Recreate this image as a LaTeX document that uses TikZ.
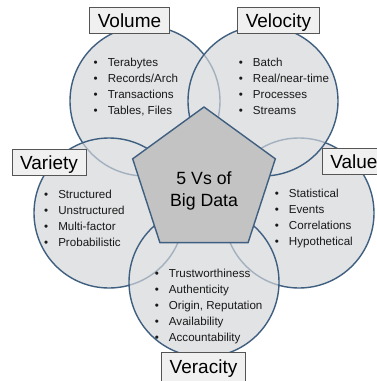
\documentclass[tikz,border=0pt]{standalone}
\usepackage{fontspec}
\setmainfont{Liberation Sans}
\usetikzlibrary{shapes.geometric}
\definecolor{circfill}{HTML}{E2E3E5}
\definecolor{circline}{HTML}{3F5F80}
\definecolor{pentfill}{HTML}{C3C3C3}
\definecolor{boxfill}{HTML}{F0F0F0}
\definecolor{boxline}{HTML}{555555}
\newcommand{\bulletlist}[1]{\begin{tabular}{@{}l@{\hspace{10pt}}l@{}}#1\end{tabular}}
\begin{document}
\begin{tikzpicture}[x=1pt,y=-1pt,
  circbase/.style={fill=circfill},
  circfirst/.style={draw=circline, line width=1.4pt},
  circover/.style={fill=circfill, fill opacity=0.62, draw=circline, draw opacity=1, line width=1.4pt},
  core/.style={regular polygon, regular polygon sides=5, minimum size=150pt, inner sep=0pt,
    draw=circline, fill=pentfill, line width=1.4pt},
  coretext/.style={font=\fontsize{17.7}{22}\selectfont, align=center, inner sep=0pt},
  listtext/.style={font=\fontsize{11.6}{16}\selectfont, anchor=north west, inner sep=0pt, text=black!90},
  vlabel/.style={draw=boxline, fill=boxfill, line width=0.7pt, font=\fontsize{19}{22}\selectfont,
    inner xsep=8pt, minimum height=26pt, text depth=0pt}
]
\useasboundingbox (0,0) rectangle (377,381);
\fill[white] (0,0) rectangle (377,381);
% circle centres
\coordinate (cVol) at (145,101);
\coordinate (cVel) at (263,101);
\coordinate (cVal) at (299,213);
\coordinate (cVer) at (204,282);
\coordinate (cVar) at (109,213);
% base fills
\foreach \c in {cVol,cVel,cVal,cVer,cVar} \fill[circbase] (\c) circle (75pt);
% stacked circles
\draw[circfirst] (cVol) circle (75pt);
\filldraw[circover] (cVal) circle (75pt);
\filldraw[circover] (cVel) circle (75pt);
\filldraw[circover] (cVar) circle (75pt);
\filldraw[circover] (cVer) circle (75pt);
% centre pentagon
\node[core] (pent) at (204,182) {};
\node[coretext] (pentlabel) at (204,190.5) {5 Vs of\\Big Data};
% lists
\node[listtext] (lvol) at (93.5,55) {\bulletlist{•&Terabytes\\•&Records/Arch\\•&Transactions\\•&Tables, Files}};
\node[listtext] (lvel) at (238.7,55) {\bulletlist{•&Batch\\•&Real/near-time\\•&Processes\\•&Streams}};
\node[listtext] (lvar) at (44,187) {\bulletlist{•&Structured\\•&Unstructured\\•&Multi-factor\\•&Probabilistic}};
\node[listtext] (lval) at (274.7,186) {\bulletlist{•&Statistical\\•&Events\\•&Correlations\\•&Hypothetical}};
\node[listtext] (lver) at (154.7,266) {\bulletlist{•&Trustworthiness\\•&Authenticity\\•&Origin, Reputation\\•&Availability\\•&Accountability}};
% labels
\node[vlabel] (tvol) at (129.5,20.5) {Volume};
\node[vlabel] (tvel) at (278.5,20.5) {Velocity};
\node[vlabel] (tvar) at (49,162.5) {Variety};
\node[vlabel, anchor=west] (tval) at (322,161.5) {Value};
\node[vlabel, minimum height=29pt] (tver) at (203.5,367) {Veracity};
\end{tikzpicture}
\end{document}
